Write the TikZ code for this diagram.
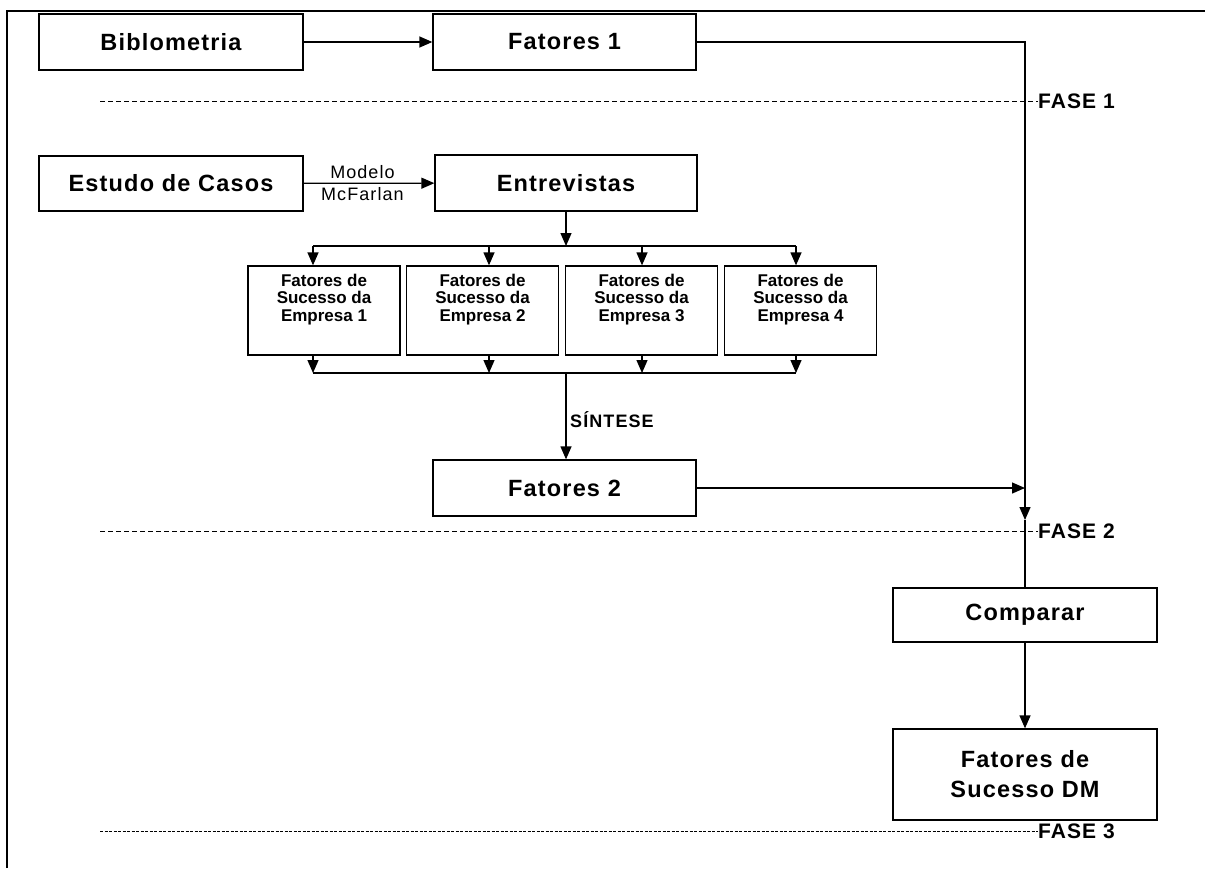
\documentclass[tikz,border=0pt]{standalone}
\usepackage{fontspec}
\setmainfont{Liberation Sans}
\newfontfamily\wideface[LetterSpace=5]{Liberation Sans}
\newfontfamily\midface[LetterSpace=6]{Liberation Sans}
\usetikzlibrary{arrows.meta,positioning,calc}
\tikzset{
  bigbox/.style={draw, line width=1.3pt, minimum width=263pt, minimum height=56pt, inner sep=0pt,
    font=\wideface\bfseries\fontsize{23.5}{30}\selectfont, align=center},
  empbox/.style={draw, line width=1.3pt, inner sep=0pt,
    font=\bfseries\fontsize{17}{17.5}\selectfont},
  ln/.style={line width=1.3pt},
  arr/.style={line width=1.3pt, -{Triangle[length=13pt,width=11pt]}},
  dline/.style={line width=1pt, dash pattern=on 5pt off 3pt},
  dlinefine/.style={line width=1pt, dash pattern=on 3pt off 1.5pt},
  phase/.style={inner sep=0pt, anchor=west, font=\wideface\bfseries\fontsize{21}{24}\selectfont},
  edgelbl/.style={inner sep=4pt, font=\midface\fontsize{18}{20}\selectfont},
  sintlbl/.style={inner sep=0pt, anchor=west, font=\midface\bfseries\fontsize{18}{20}\selectfont}
}
\newcommand{\emptext}[1]{\parbox[t][89pt][t]{152pt}{\vspace*{8pt}\centering #1}}
\begin{document}
\begin{tikzpicture}[x=1pt,y=-1pt]
\useasboundingbox (0,0) rectangle (1205,868);
% frame
\draw[line width=2pt] (7,868) -- (7,11) -- (1205,11);

% main boxes
\node[bigbox, minimum width=264pt] (bib) at (171,42) {Biblometria};
\node[bigbox] (f1) at (564.5,42) {Fatores 1};
\node[bigbox, minimum width=264pt, minimum height=55pt] (est) at (171,183.5) {Estudo de Casos};
\node[bigbox, minimum width=262pt] (ent) at (566,183) {Entrevistas};
\node[bigbox] (f2) at (564.5,488) {Fatores 2};
\node[bigbox, minimum width=264pt, minimum height=54pt] (cmp) at (1025,615) {Comparar};
\node[bigbox, minimum width=264pt, minimum height=91pt] (dm) at (1025,774.5) {Fatores de\\Sucesso DM};

% empresa boxes
\node[empbox] (e1) at (324,310.5) {\emptext{Fatores de\\Sucesso da\\Empresa 1}};
\node[empbox] (e2) at (482.5,310.5) {\emptext{Fatores de\\Sucesso da\\Empresa 2}};
\node[empbox] (e3) at (641.5,310.5) {\emptext{Fatores de\\Sucesso da\\Empresa 3}};
\node[empbox] (e4) at (800.5,310.5) {\emptext{Fatores de\\Sucesso da\\Empresa 4}};

% phase labels
\node[phase] (p1) at (1038,101) {FASE 1};
\node[phase] (p2) at (1038,531) {FASE 2};
\node[phase] (p3) at (1038,831) {FASE 3};
\draw[dline] (100,101) -- (p1.west);
\draw[dline] (100,531) -- (p2.west);
\draw[dlinefine] (100,831) -- (p3.west);

% connectors
\draw[arr] (bib) -- (f1);
\draw[arr] (est) -- node[edgelbl, above, pos=0.45] (mod) {Modelo}
                    node[edgelbl, below, pos=0.45] (mcf) {McFarlan} (ent);

\coordinate (tip) at (1025,520);
\draw[arr] (f1.east) -| (tip);
\draw[ln] (tip) -- (cmp.north);
\draw[arr] (f2.east) -- (f2.east -| cmp.north);
\draw[arr] (cmp) -- (dm);

% top bus
\coordinate (t1) at (313,246);
\coordinate (t2) at (489,246);
\coordinate (t3) at (642,246);
\coordinate (t4) at (796,246);
\draw[arr] (ent.south) -- (ent.south |- t1);
\draw[ln] (t1) -- (t4);
\draw[arr] (t1) -- (t1 |- e1.north);
\draw[arr] (t2) -- (t2 |- e2.north);
\draw[arr] (t3) -- (t3 |- e3.north);
\draw[arr] (t4) -- (t4 |- e4.north);

% bottom bus
\coordinate (u1) at (313,373);
\coordinate (u2) at (489,373);
\coordinate (u3) at (642,373);
\coordinate (u4) at (796,373);
\coordinate (um) at (566,373);
\draw[arr] (u1 |- e1.south) -- (u1);
\draw[arr] (u2 |- e2.south) -- (u2);
\draw[arr] (u3 |- e3.south) -- (u3);
\draw[arr] (u4 |- e4.south) -- (u4);
\draw[ln] (u1) -- (u4);
\draw[arr] (um) -- (um |- f2.north);
\node[sintlbl] (sin) at (570,420) {SÍNTESE};
\end{tikzpicture}
\end{document}
